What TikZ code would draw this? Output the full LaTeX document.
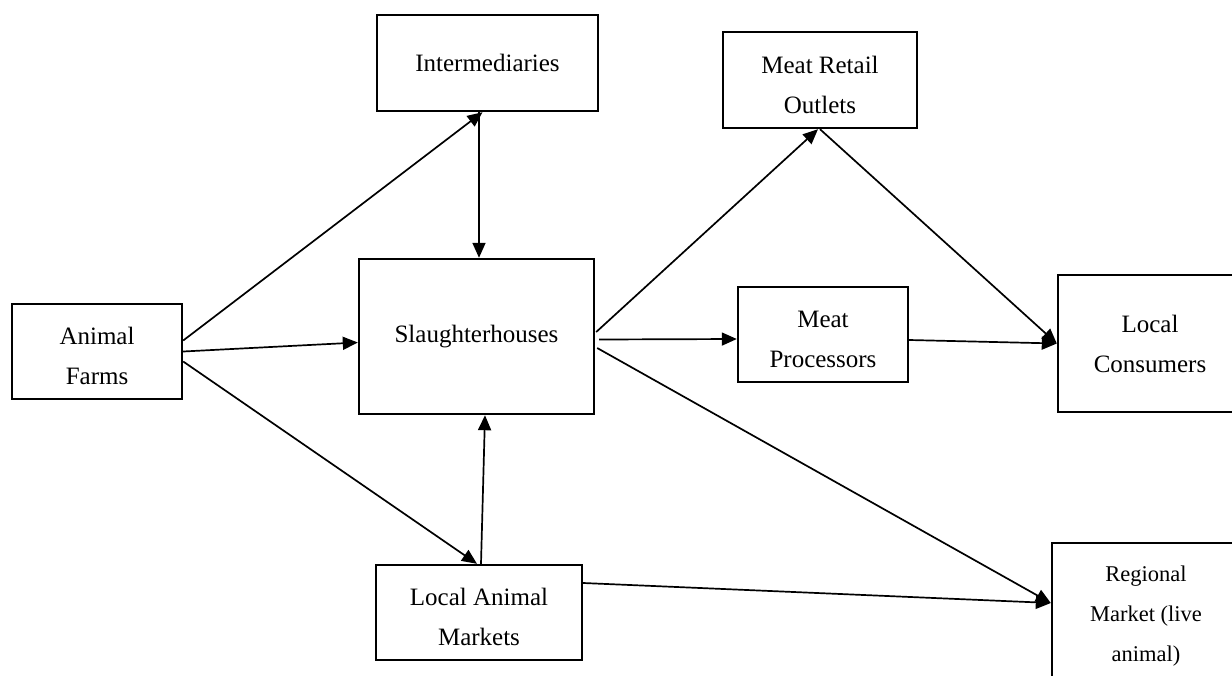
\documentclass[tikz,border=0pt]{standalone}
\usepackage{fontspec}
\setmainfont{Liberation Serif}
\usetikzlibrary{arrows.meta}
\newcommand\mainf{\fontsize{25}{40}\selectfont}
\newcommand\smallf{\fontsize{22.5}{40}\selectfont}
\newcommand\dn{\rule{0pt}{27pt}}
\tikzset{
  box/.style={draw, line width=2.4pt, inner sep=0pt, align=center, font=\mainf},
  conn/.style={line width=1.7pt, -{Triangle[length=15pt,width=13pt]}}
}
\begin{document}
\begin{tikzpicture}[x=1pt,y=-1pt]
\useasboundingbox (0,0) rectangle (1232,675);
\node[box, minimum width=170pt, minimum height=95pt] (farms) at (97,351.5) {\dn Animal\\Farms};
\node[box, minimum width=221pt, minimum height=96pt] (inter) at (487.5,63) {Intermediaries};
\node[box, minimum width=235pt, minimum height=155pt] (slaughter) at (476.5,336.5) {Slaughterhouses};
\node[box, minimum width=194pt, minimum height=96pt] (mro) at (820,80) {\dn Meat Retail\\Outlets};
\node[box, minimum width=170pt, minimum height=95pt] (mp) at (823,334.5) {\dn Meat\\Processors};
\node[box, minimum width=184pt, minimum height=137pt] (lc) at (1150,343.5) {Local\\Consumers};
\node[box, minimum width=206pt, minimum height=95pt] (lam) at (479,612.5) {\dn Local Animal\\Markets};
\node[box, font=\smallf, minimum width=188pt, minimum height=146pt] (reg) at (1146,616) {Regional\\Market (live\\animal)};

\draw[conn] ([yshift=11pt]farms.east) -- ([xshift=-5pt]inter.south);
\draw[conn] (farms.east) -- ([yshift=-6pt]slaughter.west);
\draw[conn] ([yshift=-10pt]farms.east) -- ([xshift=-2pt]lam.north);
\draw[conn] ([xshift=-8.5pt]inter.south) -- ([xshift=2.5pt]slaughter.north);
\draw[conn] ([xshift=2pt]lam.north) -- ([xshift=8.5pt]slaughter.south);
\draw[conn] ([xshift=1pt,yshift=4.5pt]slaughter.east) -- ([xshift=-2pt]mro.south);
\draw[conn] ([xshift=4pt,yshift=-3pt]slaughter.east) -- ([yshift=-4.5pt]mp.west);
\draw[conn] ([xshift=2pt,yshift=-11.5pt]slaughter.east) -- ([yshift=13pt]reg.west);
\draw[conn] ([yshift=29.5pt]lam.east) -- ([yshift=13pt]reg.west);
\draw[conn] (mro.south) -- (lc.west);
\draw[conn] ([yshift=-5.5pt]mp.east) -- (lc.west);
\end{tikzpicture}
\end{document}
